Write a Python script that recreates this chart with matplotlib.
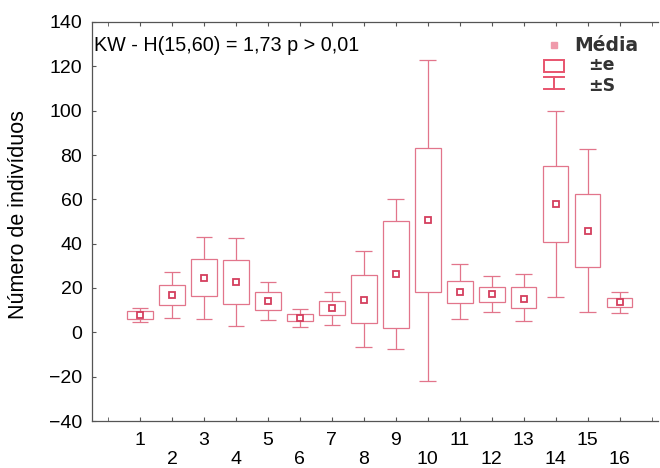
import matplotlib.pyplot as plt
import matplotlib.patches as mpatches
import numpy as np

plt.rcParams['font.family'] = ['Liberation Sans', 'DejaVu Sans']

groups = np.arange(1, 17)
means = [7.7, 16.9, 24.4, 22.7, 14.2, 6.5, 11.1, 14.7, 26.2, 50.7, 18.4, 17.1, 15.2, 58.0, 45.9, 13.5]
se_low = [6.0, 12.3, 16.4, 12.9, 10.1, 5.1, 7.8, 4.2, 2.1, 18.4, 13.4, 13.8, 10.8, 40.8, 29.5, 11.3]
se_high = [9.5, 21.5, 32.9, 32.5, 18.4, 8.3, 14.3, 25.7, 50.1, 83.2, 23.3, 20.5, 20.5, 74.9, 62.4, 15.5]
sd_low = [4.5, 6.6, 6.2, 2.9, 5.7, 2.6, 3.5, -6.5, -7.7, -21.9, 6.0, 9.2, 5.0, 16.0, 9.3, 8.9]
sd_high = [10.8, 27.1, 43.0, 42.4, 22.7, 10.7, 18.4, 36.5, 60.0, 123.0, 30.7, 25.4, 26.5, 99.9, 82.9, 18.2]

line_col = "#e2758b"
mean_col = "#d43f5e"

fig = plt.figure(figsize=(6.6, 4.68), dpi=100)
ax = fig.add_axes([92/660, 47/468, 566/660, 399/468])

box_w = 0.8
cap_w = 0.52
se_low = np.array(se_low)
se_high = np.array(se_high)
ax.bar(groups, se_high - se_low, bottom=se_low, width=box_w, fill=False,
       edgecolor=line_col, linewidth=0.9)
ax.vlines(groups, se_high, sd_high, color=line_col, linewidth=0.9)
ax.vlines(groups, sd_low, se_low, color=line_col, linewidth=0.9)
ax.hlines(sd_high, groups - cap_w/2, groups + cap_w/2, color=line_col, linewidth=0.9)
ax.hlines(sd_low, groups - cap_w/2, groups + cap_w/2, color=line_col, linewidth=0.9)
ax.plot(groups, means, linestyle='none', marker='s', markersize=5,
        markerfacecolor='none', markeredgecolor=mean_col, markeredgewidth=1.3)

ax.set_xlim(-0.5, 17.2)
ax.set_ylim(-40, 140)
ax.set_yticks(np.arange(-40, 141, 20))
ax.set_xticks(groups)
ax.set_xticklabels([str(g) for g in groups])
ax.set_xticks([0, 17], minor=True)
ax.tick_params(axis='both', which='both', direction='in', length=3, labelsize=14,
               color='#555555', top=True)
for i, t in enumerate(ax.xaxis.get_major_ticks()):
    t.set_pad(8 if i % 2 == 0 else 21.5)
ax.tick_params(axis='y', pad=7)
for s in ax.spines.values():
    s.set_color('#555555')
    s.set_linewidth(0.9)
ax.spines['right'].set_visible(False)

ax.set_ylabel("Número de indivíduos", fontsize=15.5)
ax.yaxis.set_label_coords(-0.112, 0.517)

ax.text(0.003, 0.965, "KW - H(15,60) = 1,73 p > 0,01", transform=ax.transAxes,
        fontsize=14.2, ha='left', va='top')

# legend
tr = ax.transAxes
ax.plot([0.816], [0.942], marker='s', markersize=4, color="#ef9aab",
        transform=tr, clip_on=False)
ax.text(0.852, 0.942, "Média", transform=tr, fontsize=13.5, fontweight='bold',
        color='#333333', va='center', ha='left', family='DejaVu Sans')
ax.add_patch(mpatches.Rectangle((0.798, 0.875), 0.036, 0.03, transform=tr,
                                fill=False, edgecolor="#e8546e", linewidth=1.4))
ax.text(0.876, 0.892, "±e", transform=tr, fontsize=12.5, fontweight='bold',
        color='#333333', va='center', ha='left', family='DejaVu Sans')
ax.plot([0.816, 0.816], [0.832, 0.862], color="#e8546e", linewidth=1.4, transform=tr)
ax.plot([0.798, 0.834], [0.862, 0.862], color="#e8546e", linewidth=1.4, transform=tr)
ax.plot([0.798, 0.834], [0.832, 0.832], color="#e8546e", linewidth=1.4, transform=tr)
ax.text(0.876, 0.840, "±S", transform=tr, fontsize=12.5, fontweight='bold',
        color='#333333', va='center', ha='left', family='DejaVu Sans')

fig.savefig("out.png", dpi=100)
